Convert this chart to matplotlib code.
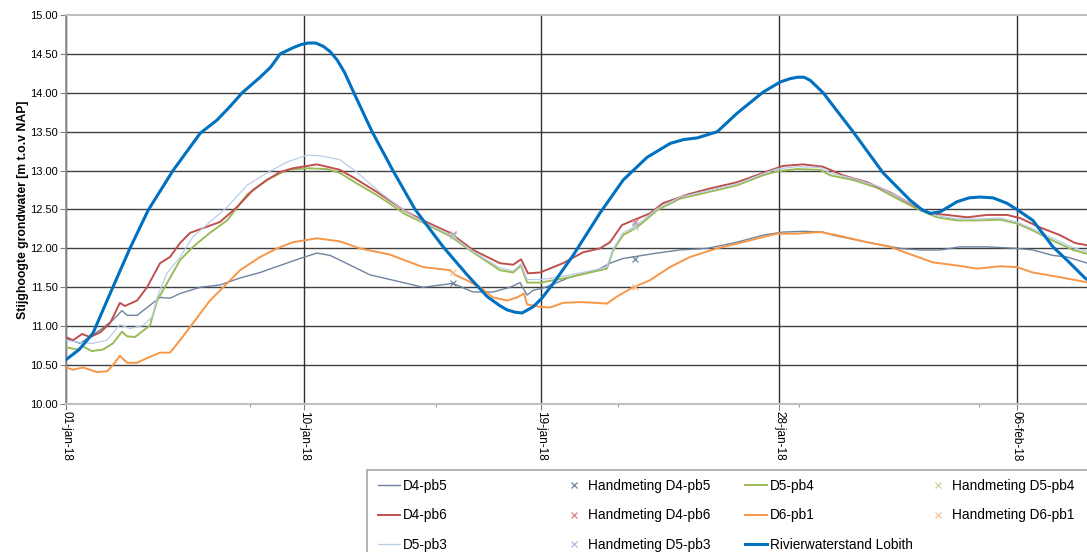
import matplotlib
matplotlib.use("Agg")
import matplotlib.pyplot as plt
from matplotlib.patches import Rectangle

plt.rcParams['font.family'] = ['Liberation Sans', 'DejaVu Sans']

# --- DATA (days since 01-jan-18, levels in m t.o.v. NAP) ---
tick_days = [0, 9, 18, 27, 36]
tick_labels = ['01-jan-18', '10-jan-18', '19-jan-18', '28-jan-18', '06-feb-18']
minor_days = [6.97, 14.0, 20.9, 27.75, 34.57]
y_ticks = [10.0, 10.5, 11.0, 11.5, 12.0, 12.5, 13.0, 13.5, 14.0, 14.5, 15.0]

d4pb5_days = [0, 0.53, 1.29, 1.78, 2.12, 2.31, 2.69, 3.07, 3.56, 3.94, 4.32, 5.07, 5.83, 6.59,
              7.35, 8.1, 8.86, 9.5, 10.0, 10.37, 11.51, 12.65, 13.52, 14.65, 15.41, 16.17, 16.81,
              17.19, 17.46, 17.68, 18.06, 18.59, 19.08, 20.11, 20.6, 21.09, 22.38, 23.25, 24.27,
              25.41, 26.39, 27.15, 27.91, 28.66, 29.04, 30.33, 31.58, 32.34, 33.1, 33.85, 34.87,
              36.01, 36.61, 37.37, 37.9, 38.58, 38.67]
d4pb5_vals = [10.84, 10.78, 10.95, 11.08, 11.2, 11.14, 11.14, 11.24, 11.37, 11.36, 11.42, 11.5,
              11.53, 11.62, 11.69, 11.78, 11.87, 11.94, 11.91, 11.85, 11.66, 11.57, 11.5, 11.55,
              11.44, 11.44, 11.5, 11.56, 11.4, 11.46, 11.49, 11.56, 11.63, 11.72, 11.81, 11.87,
              11.94, 11.98, 12.0, 12.08, 12.17, 12.21, 12.22, 12.21, 12.17, 12.08, 12.0, 11.98,
              11.98, 12.02, 12.02, 12.0, 11.98, 11.91, 11.89, 11.82, 11.81]

d5pb4_days = [0, 0.42, 0.64, 0.98, 1.4, 1.78, 2.12, 2.31, 2.61, 3.18, 3.45, 3.82, 4.32, 4.81,
              5.45, 6.1, 6.85, 7.61, 8.37, 9.13, 9.88, 10.37, 10.94, 11.89, 12.84, 13.52, 14.54,
              15.41, 16.43, 16.93, 17.23, 17.46, 17.95, 18.44, 19.08, 19.84, 20.48, 20.71, 21.09,
              21.62, 22.38, 23.25, 24.27, 25.41, 26.39, 26.92, 27.68, 28.55, 28.93, 29.8, 30.71,
              31.58, 32.34, 32.98, 33.74, 34.61, 35.37, 36.01, 36.61, 37.37, 38.13, 38.67]
d5pb4_vals = [10.73, 10.70, 10.74, 10.68, 10.70, 10.78, 10.93, 10.87, 10.86, 11.01, 11.33, 11.55,
              11.85, 12.02, 12.2, 12.36, 12.69, 12.88, 13.01, 13.03, 13.02, 12.97, 12.85, 12.66,
              12.44, 12.33, 12.16, 11.95, 11.72, 11.69, 11.78, 11.56, 11.56, 11.59, 11.63, 11.69,
              11.74, 11.97, 12.17, 12.27, 12.49, 12.64, 12.72, 12.81, 12.94, 12.99, 13.02, 13.01,
              12.94, 12.88, 12.78, 12.62, 12.49, 12.4, 12.36, 12.36, 12.37, 12.32, 12.23, 12.1,
              11.98, 11.93]

d4pb6_days = [0, 0.27, 0.61, 0.91, 1.29, 1.67, 2.04, 2.23, 2.69, 3.07, 3.56, 3.94, 4.32, 4.7,
              5.19, 5.83, 6.47, 7.08, 7.61, 8.1, 8.6, 9.13, 9.5, 9.88, 10.37, 10.94, 11.89, 12.84,
              13.52, 14.54, 15.41, 16.43, 16.93, 17.23, 17.49, 17.95, 18.82, 19.58, 20.22, 20.6,
              21.05, 21.47, 22.11, 22.6, 23.51, 24.38, 25.41, 26.39, 27.15, 27.91, 28.66, 29.42,
              30.33, 31.2, 31.96, 32.72, 33.36, 34.12, 34.87, 35.63, 36.12, 36.88, 37.64, 38.2, 38.67]
d4pb6_vals = [10.86, 10.82, 10.9, 10.86, 10.92, 11.04, 11.3, 11.26, 11.33, 11.5, 11.81, 11.89,
              12.07, 12.2, 12.26, 12.34, 12.53, 12.75, 12.88, 12.98, 13.03, 13.06, 13.08, 13.05,
              13.01, 12.9, 12.7, 12.48, 12.36, 12.2, 11.98, 11.81, 11.79, 11.86, 11.68, 11.69,
              11.81, 11.95, 12.0, 12.08, 12.3, 12.36, 12.45, 12.58, 12.69, 12.77, 12.85, 12.97,
              13.06, 13.08, 13.05, 12.94, 12.85, 12.72, 12.58, 12.45, 12.43, 12.4, 12.43, 12.43,
              12.39, 12.27, 12.17, 12.07, 12.04]

d6pb1_days = [0, 0.27, 0.64, 0.91, 1.17, 1.55, 1.78, 2.04, 2.31, 2.69, 3.07, 3.56, 3.94, 4.32,
              4.81, 5.45, 6.1, 6.59, 7.35, 7.99, 8.6, 9.5, 10.37, 11.13, 12.27, 12.65, 13.52,
              14.54, 14.73, 15.18, 15.68, 16.17, 16.7, 17.08, 17.34, 17.46, 17.95, 18.33, 18.82,
              19.46, 20.11, 20.48, 20.86, 21.47, 22.11, 22.87, 23.63, 24.65, 25.63, 26.92, 27.68,
              28.55, 29.19, 30.33, 31.2, 31.84, 32.83, 33.74, 34.49, 35.37, 36.01, 36.61, 37.64,
              38.58, 38.67]
d6pb1_vals = [10.47, 10.44, 10.47, 10.44, 10.41, 10.42, 10.5, 10.62, 10.53, 10.53, 10.59, 10.66,
              10.66, 10.82, 11.04, 11.33, 11.55, 11.72, 11.89, 12.0, 12.08, 12.13, 12.09, 12.0,
              11.92, 11.87, 11.76, 11.72, 11.66, 11.59, 11.5, 11.37, 11.33, 11.37, 11.42, 11.28,
              11.25, 11.24, 11.3, 11.31, 11.3, 11.29, 11.38, 11.5, 11.59, 11.76, 11.89, 12.0,
              12.08, 12.19, 12.19, 12.21, 12.17, 12.08, 12.02, 11.94, 11.82, 11.78, 11.74, 11.77,
              11.76, 11.69, 11.63, 11.57, 11.56]

d5pb3_days = [0, 0.53, 1.02, 1.55, 2.04, 2.42, 2.92, 3.26, 3.45, 3.82, 4.32, 4.81, 5.45, 6.1,
              6.85, 7.61, 8.37, 9.13, 9.62, 10.37, 10.94, 11.89, 12.84, 13.52, 14.54, 15.41,
              16.43, 16.93, 17.23, 17.46, 17.95, 18.44, 19.08, 19.84, 20.48, 20.71, 21.09, 21.62,
              22.38, 23.25, 24.27, 25.41, 26.39, 26.92, 27.68, 28.55, 28.93, 29.8, 30.71, 31.58,
              32.34, 32.98, 33.74, 34.61, 35.37, 36.01, 36.61, 37.37, 38.13, 38.67]
d5pb3_vals = [10.82, 10.79, 10.78, 10.82, 11.02, 10.97, 11.01, 11.12, 11.37, 11.68, 11.89, 12.15,
              12.34, 12.53, 12.81, 12.97, 13.11, 13.2, 13.19, 13.14, 13.0, 12.72, 12.48, 12.34,
              12.18, 11.96, 11.75, 11.71, 11.8, 11.6, 11.6, 11.62, 11.66, 11.71, 11.76, 11.99,
              12.2, 12.3, 12.51, 12.66, 12.74, 12.83, 12.96, 13.02, 13.05, 13.04, 12.97, 12.9,
              12.8, 12.65, 12.52, 12.42, 12.38, 12.38, 12.39, 12.34, 12.25, 12.13, 12.01, 11.96]

lobith_days = [0, 0.5, 1.02, 1.67, 2.42, 3.11, 4.05, 5.08, 5.72, 6.2, 6.67, 7.35, 7.75, 8.11,
               8.6, 8.9, 9.17, 9.45, 9.73, 10.0, 10.27, 10.55, 10.9, 11.59, 12.38, 13.22, 14.28,
               15.19, 15.95, 16.4, 16.7, 17.0, 17.27, 17.69, 18.02, 18.45, 19.2, 20.23, 21.1,
               22.0, 22.88, 23.4, 23.9, 24.66, 25.42, 26.4, 27.05, 27.4, 27.69, 27.95, 28.18,
               28.67, 29.8, 30.94, 31.96, 32.4, 32.72, 33.1, 33.74, 34.2, 34.61, 35.1, 35.63,
               36.05, 36.61, 37.37, 37.9, 38.58, 38.67]
lobith_vals = [10.57, 10.7, 10.91, 11.42, 12.0, 12.49, 13.0, 13.48, 13.65, 13.82, 14.0, 14.2,
               14.33, 14.5, 14.58, 14.62, 14.64, 14.64, 14.6, 14.53, 14.42, 14.26, 14.0, 13.5,
               13.0, 12.5, 12.02, 11.66, 11.38, 11.27, 11.21, 11.18, 11.17, 11.25, 11.36, 11.55,
               11.91, 12.46, 12.88, 13.17, 13.35, 13.4, 13.42, 13.5, 13.74, 14.01, 14.14, 14.18,
               14.2, 14.2, 14.16, 14.0, 13.5, 12.97, 12.62, 12.5, 12.45, 12.47, 12.6, 12.65,
               12.66, 12.65, 12.58, 12.49, 12.36, 12.02, 11.85, 11.62, 11.6]

# hand measurements
hand_days = [14.65, 21.54]
hand_d4pb5 = [11.55, 11.86]
hand_d5pb4 = [12.16, 12.28]
hand_d4pb6 = [12.18, 12.34]
hand_d6pb1 = [11.7, 11.5]
hand_d5pb3 = [12.17, 12.3]

W, H = 1087, 552
fig = plt.figure(figsize=(W / 100, H / 100), dpi=100)
ax = fig.add_axes([66 / W, 1 - 404 / H, 1 - 66 / W, (404 - 15) / H])

# series, drawn in Excel order
series = [
    (d4pb5_days, d4pb5_vals, 'D4-pb5', '#6F83A0', 1.0, hand_d4pb5, '#6F83A0', 'Handmeting D4-pb5'),
    (d5pb4_days, d5pb4_vals, 'D5-pb4', '#9BBB59', 1.4, hand_d5pb4, '#C3D69B', 'Handmeting D5-pb4'),
    (d4pb6_days, d4pb6_vals, 'D4-pb6', '#C0504D', 1.4, hand_d4pb6, '#D9827F', 'Handmeting D4-pb6'),
    (d6pb1_days, d6pb1_vals, 'D6-pb1', '#F79646', 1.4, hand_d6pb1, '#FAC090', 'Handmeting D6-pb1'),
    (d5pb3_days, d5pb3_vals, 'D5-pb3', '#B9CDE9', 0.9, hand_d5pb3, '#A9C0E0', 'Handmeting D5-pb3'),
]
handles = {}
for days, vals, name, col, lw, hvals, hcol, hname in series:
    ln, = ax.plot(days, vals, color=col, lw=lw, label=name, zorder=3)
    mk, = ax.plot(hand_days, hvals, ls='none', marker='x', ms=4, mew=0.9, color=hcol,
                  label=hname, zorder=4)
    handles[name] = ln
    handles[hname] = mk
ln, = ax.plot(lobith_days, lobith_vals, color='#0070C0', lw=2.2, label='Rivierwaterstand Lobith',
              zorder=5)
handles['Rivierwaterstand Lobith'] = ln

ax.set_xlim(0, (W - 66) / 26.41)
ax.set_ylim(10, 15)

# grid
for yv in y_ticks[1:-1]:
    ax.axhline(yv, color='#404040', lw=1.0, zorder=1)
ax.set_xticks(tick_days)
ax.set_xticklabels(tick_labels, rotation=270, fontsize=8.5)
ax.set_xticks(minor_days, minor=True)
ax.grid(axis='x', which='major', color='#303030', lw=1.0, zorder=1)
ax.set_yticks(y_ticks)
ax.set_yticklabels([f'{v:.2f}' for v in y_ticks], fontsize=8)
ax.tick_params(axis='both', which='major', direction='out', length=4, width=0.8,
               color='#808080', pad=2)
ax.tick_params(axis='x', which='minor', direction='out', length=2, width=0.8, color='#A0A0A0')
ax.tick_params(axis='x', which='major', pad=1)

for side in ['top', 'bottom']:
    ax.spines[side].set_color('#C0C0C0')
    ax.spines[side].set_linewidth(1.5)
ax.spines['left'].set_color('#909090')
ax.spines['left'].set_linewidth(1.2)
ax.spines['right'].set_visible(False)

ax.set_ylabel('Stijghoogte grondwater [m t.o.v NAP]', fontsize=8.8, fontweight='bold', labelpad=0.5)

# legend box
fig.add_artist(Rectangle((367 / W, -0.02), 1, 0.02 + (1 - 470 / H), transform=fig.transFigure,
                         facecolor='white', edgecolor='#A6A6A6', lw=1.2, zorder=0))

legend_cols = [
    (378, ['D4-pb5', 'D4-pb6', 'D5-pb3']),
    (563, ['Handmeting D4-pb5', 'Handmeting D4-pb6', 'Handmeting D5-pb3']),
    (745, ['D5-pb4', 'D6-pb1', 'Rivierwaterstand Lobith']),
    (927, ['Handmeting D5-pb4', 'Handmeting D6-pb1']),
]
for xpos, names in legend_cols:
    fig.legend([handles[n] for n in names], names, loc='upper left',
               bbox_to_anchor=(xpos / W, 1 - 479 / H), frameon=False, fontsize=9.8,
               handlelength=1.6, handletextpad=0.22, labelspacing=1.13,
               borderpad=0, borderaxespad=0)

fig.savefig('out.png', dpi=100)
